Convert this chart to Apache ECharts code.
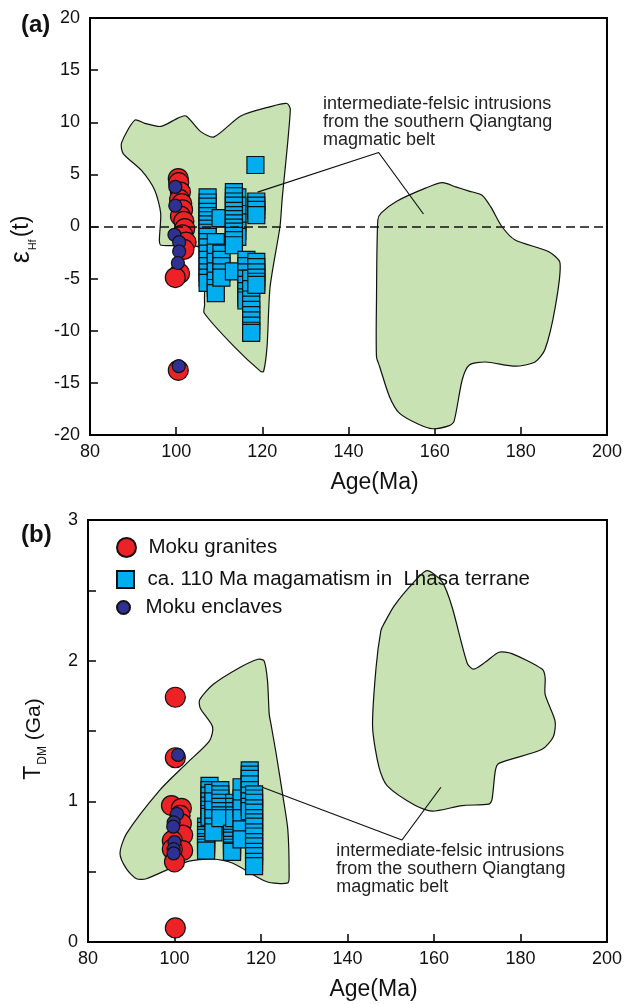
<!DOCTYPE html>
<html><head><meta charset="utf-8">
<script src="https://cdn.jsdelivr.net/npm/echarts@6/dist/echarts.min.js"></script>
<style>html,body{margin:0;padding:0;background:#fff}#c{width:625px;height:1004px}</style>
</head><body><div id="c"></div>
<script>
// ---------- data ----------
const xTicks = [80, 100, 120, 140, 160, 180, 200];
const seriesNames = ['Moku granites', 'ca. 110 Ma magamatism in  Lhasa terrane', 'Moku enclaves'];
const annoLines = ['intermediate-felsic intrusions', 'from the southern Qiangtang', 'magmatic belt'];

// Panel (a): eHf(t) vs Age
const granitesA = [[100.5,4.6],[100.6,4.2],[101.0,3.3],[100.8,2.6],[101.3,2.2],[101.5,1.6],[101.0,1.0],[101.8,0.5],[102.0,-0.2],[101.5,-0.8],[102.3,-1.5],[101.8,-2.2],[100.8,-4.5],[99.8,-4.9],[100.5,-13.8]];
const enclavesA = [[99.8,3.8],[99.8,2.0],[99.6,-0.8],[100.7,-1.5],[100.7,-2.4],[100.4,-3.5],[100.6,-13.4]];
const lhasaA = [
  [107.3,2.8],[107.3,2.3],[107.3,1.9],[107.3,1.4],[107.3,1.0],[107.3,0.6],[107.3,0.2],[107.3,-0.2],[107.3,-0.6],[107.3,-1.0],[107.3,-1.5],[107.3,-2.0],[107.3,-2.6],[107.3,-3.2],[107.3,-3.8],[107.3,-4.4],[107.3,-4.9],[107.3,-5.4],
  [109.2,-1.5],[109.2,-2.5],[109.2,-3.4],[109.2,-4.3],[109.2,-5.2],[109.2,-5.9],[109.2,-6.4],
  [110.3,0.8],
  [110.5,-2.6],[110.5,-3.2],[110.5,-3.8],[110.5,-4.4],[110.5,-4.9],
  [114.2,2.8],[114.2,2.0],[114.2,1.2],[114.2,0.4],[114.2,-0.4],[114.2,-1.0],
  [113.4,3.3],[113.4,2.9],[113.4,2.4],[113.4,2.0],[113.4,1.5],[113.4,1.1],[113.4,0.7],[113.4,0.3],[113.4,-0.1],[113.4,-0.5],[113.4,-0.9],[113.4,-1.3],[113.4,-1.8],
  [113.4,-4.3],
  [116.3,-3.2],[116.3,-3.8],[116.3,-4.4],[116.3,-5.0],[116.3,-5.6],[116.3,-6.2],[116.3,-6.8],[116.3,-7.1],
  [117.4,-5.0],[117.4,-6.0],[117.4,-7.0],[117.4,-7.5],[117.4,-8.0],[117.4,-8.5],[117.4,-9.0],[117.4,-9.5],[117.4,-10.0],[117.4,-10.2],
  [118.6,2.4],[118.6,2.0],[118.6,1.6],[118.6,1.1],
  [118.6,-3.4],[118.6,-3.9],[118.6,-4.4],[118.6,-4.9],[118.6,-5.3],[118.6,-5.6],
  [118.4,5.9]
];
const fieldA1 = [[90.4,10.2],[92.7,9.9],[96.5,9.6],[100.4,10.4],[102.3,10.6],[105.7,9.1],[108.8,8.6],[115.0,10.6],[121.9,11.5],[125.7,11.8],[126.5,11.2],[124.6,2.6],[124.1,0.0],[121.8,-5.8],[121.1,-11.5],[120.3,-13.9],[119.6,-13.9],[113.4,-11.5],[106.5,-8.3],[106.6,-7.5],[105.7,-2.1],[96.5,-1.8],[96.1,-1.4],[96.4,1.3],[95.0,3.5],[91.9,5.4],[87.7,7.0],[87.3,8.0]];
const fieldA2 = [[147.6,1.3],[151.1,2.4],[158.0,3.7],[161.8,4.2],[164.9,3.8],[168.0,3.4],[171.0,3.0],[173.0,1.9],[175.6,0.0],[178.7,-1.3],[186.4,-2.4],[189.1,-3.5],[188.0,-7.7],[185.6,-11.8],[183.3,-13.0],[178.7,-13.4],[171.8,-13.0],[168.0,-13.3],[166.4,-14.7],[164.5,-18.7],[163.4,-19.1],[159.5,-19.4],[156.4,-19.0],[151.8,-17.9],[149.5,-16.3],[147.2,-13.4],[146.5,-12.5],[146.5,-7.0],[146.8,0.6]];
const leaderA = [[118.9,3.3],[147.0,7.1],[157.4,1.2]];
const annoPosA = [134.1, 12.6];
const refLineA = 0;

// Panel (b): TDM vs Age
const granitesB = [[100.2,1.74],[100.2,1.31],[99.3,0.97],[101.6,0.95],[101.3,0.90],[101.6,0.84],[101.9,0.76],[99.5,0.72],[101.9,0.65],[99.5,0.66],[100.0,0.57],[100.2,0.10]];
const enclavesB = [[100.8,1.33],[100.6,0.91],[99.8,0.85],[99.7,0.82],[100.0,0.71],[99.8,0.66],[99.8,0.63]];
const lhasaB = [
  [107.3,0.82],[107.3,0.79],[107.3,0.76],[107.3,0.74],[107.3,0.71],[107.3,0.69],[107.3,0.67],[107.3,0.65],
  [108.1,1.11],[108.1,1.08],[108.1,1.04],[108.1,1.00],[108.1,0.97],[108.1,0.94],[108.1,0.91],[108.1,0.89],
  [109.0,1.06],[109.0,1.00],[109.0,0.94],[109.0,0.88],[109.0,0.82],[109.0,0.78],
  [110.6,1.08],[110.6,1.05],[110.6,1.02],[110.6,0.99],[110.6,0.96],[110.6,0.93],[110.6,0.90],[110.6,0.88],
  [113.3,0.77],[113.3,0.74],[113.3,0.72],[113.3,0.69],[113.3,0.67],[113.3,0.65],[113.3,0.64],
  [113.8,0.99],[113.8,0.96],[113.8,0.93],[113.8,0.90],[113.8,0.88],
  [115.5,1.10],[115.5,1.02],[115.5,0.95],[115.5,0.88],[115.5,0.80],[115.5,0.73],
  [117.4,1.22],[117.4,1.19],[117.4,1.16],[117.4,1.12],[117.4,1.08],[117.4,1.04],[117.4,1.00],[117.4,0.96],[117.4,0.93],
  [118.4,1.05],[118.4,1.02],[118.4,0.99],[118.4,0.95],[118.4,0.92],[118.4,0.88],[118.4,0.85],[118.4,0.82],[118.4,0.78],[118.4,0.75],[118.4,0.71],[118.4,0.68],[118.4,0.64],[118.4,0.61],[118.4,0.57],[118.4,0.54]
];
const fieldB1 = [[105.8,1.72],[108.9,1.83],[115.0,1.95],[119.3,2.01],[120.7,2.00],[121.5,1.86],[121.9,1.62],[122.3,1.55],[123.5,1.34],[125.1,1.03],[126.2,0.80],[126.5,0.49],[126.2,0.42],[121.2,0.43],[113.5,0.56],[108.9,0.59],[102.8,0.57],[93.5,0.45],[91.2,0.45],[88.9,0.52],[87.4,0.63],[88.9,0.77],[96.6,1.08],[102.8,1.27],[108.1,1.43],[108.8,1.53],[106.0,1.66]];
const fieldB2 = [[148.4,2.26],[150.8,2.39],[155.4,2.56],[158.4,2.64],[161.9,2.56],[164.2,2.38],[167.7,1.98],[169.2,1.94],[171.9,1.99],[175.0,2.06],[178.0,2.05],[185.0,1.94],[185.7,1.88],[185.7,1.76],[188.0,1.57],[187.6,1.46],[185.0,1.37],[175.0,1.27],[174.2,1.22],[173.4,1.01],[172.7,0.98],[166.5,0.97],[159.6,0.93],[155.7,0.97],[149.2,1.11],[147.3,1.24],[145.8,1.53],[146.6,1.95],[147.7,2.21]];
const leaderB = [[120.3,1.10],[152.6,0.725],[161.6,1.10]];
const annoPosB = [137.4, 0.708];

// ---------- styles ----------
const FONT = '"Liberation Sans", Arial, Helvetica, sans-serif';
const RED = '#ED2227', CYAN = '#00AEEF', NAVY = '#2E3192', GREEN = '#C8E2B4', INK = '#111';
const SQUARE_ICON = 'path://M0,0L10,0L10,10L0,10Z';

function polySeries(pts, idx) {
  return {
    type: 'custom', xAxisIndex: idx, yAxisIndex: idx, data: pts, silent: true, z: 1,
    renderItem: function (params, api) {
      if (params.dataIndex !== 0) return;
      const P = pts.map(p => api.coord(p));
      return { type: 'polygon', shape: { points: P, smooth: 0.25 },
        style: { fill: GREEN, stroke: INK, lineWidth: 1.2 } };
    }
  };
}
function xAxisCfg(idx) {
  return {
    gridIndex: idx, type: 'value', min: xTicks[0], max: xTicks[xTicks.length - 1], interval: xTicks[1] - xTicks[0],
    axisLine: { onZero: false, lineStyle: { color: '#000', width: 2 } },
    axisTick: { inside: true, length: 8, lineStyle: { color: '#000', width: 1.5 } },
    axisLabel: { margin: 8, fontSize: 18, color: INK, fontFamily: FONT },
    splitLine: { show: false },
    name: 'Age(Ma)', nameLocation: 'middle', nameGap: 36,
    nameTextStyle: { fontSize: 23, color: INK, fontFamily: FONT, padding: [0, 0, 0, 52] }
  };
}
const markerBorder = { borderColor: INK, borderWidth: 1.2 };
const legendText = { fontSize: 20.5, color: INK, fontFamily: FONT };

const option = {
  animation: false,
  backgroundColor: '#fff',
  title: [
    { text: '(a)', left: 16, top: 8, textStyle: { fontSize: 24, fontWeight: 'bold', color: INK, fontFamily: FONT } },
    { text: '(b)', left: 16, top: 518, textStyle: { fontSize: 24, fontWeight: 'bold', color: INK, fontFamily: FONT } }
  ],
  grid: [
    { left: 88, top: 18, width: 521, height: 417, show: true, borderColor: '#000', borderWidth: 2, backgroundColor: 'transparent' },
    { left: 88, top: 520, width: 520, height: 422, show: true, borderColor: '#000', borderWidth: 2, backgroundColor: 'transparent' }
  ],
  xAxis: [xAxisCfg(0), xAxisCfg(1)],
  yAxis: [
    {
      gridIndex: 0, type: 'value', min: -20, max: 20, interval: 5,
      axisLine: { show: true, onZero: false, lineStyle: { color: '#000', width: 2 } },
      axisTick: { show: true, inside: true, length: 8, lineStyle: { color: '#000', width: 1.5 } },
      axisLabel: { margin: 10, fontSize: 18, color: INK, fontFamily: FONT },
      splitLine: { show: false },
      name: '{e|ε}{s|Hf}{t|(t)}', nameLocation: 'middle', nameGap: 52, nameRotate: 90,
      nameTextStyle: {
        padding: [0, 26, 0, 0],
        rich: {
          e: { fontSize: 27, color: INK, fontFamily: FONT, verticalAlign: 'bottom', padding: [0, 0, 3, 0] },
          s: { fontSize: 11, color: INK, fontFamily: FONT, verticalAlign: 'bottom', padding: [0, 2, 0, 1] },
          t: { fontSize: 23, color: INK, fontFamily: FONT, verticalAlign: 'bottom', padding: [0, 0, 5, 0] }
        }
      }
    },
    {
      gridIndex: 1, type: 'value', min: 0, max: 3, interval: 0.5,
      axisLine: { show: true, onZero: false, lineStyle: { color: '#000', width: 2 } },
      axisTick: { show: true, inside: true, length: 8, lineStyle: { color: '#000', width: 1.5 } },
      axisLabel: { margin: 10, fontSize: 18, color: INK, fontFamily: FONT,
        formatter: v => (Math.abs(v - Math.round(v)) < 1e-9 ? String(Math.round(v)) : '') },
      splitLine: { show: false },
      name: '{T|T}{s|DM}{g| (Ga)}', nameLocation: 'middle', nameGap: 39, nameRotate: 90,
      nameTextStyle: {
        padding: [0, 16, 0, 0],
        rich: {
          T: { fontSize: 23, color: INK, fontFamily: FONT, verticalAlign: 'bottom', padding: [0, 0, 4, 0] },
          s: { fontSize: 12, color: INK, fontFamily: FONT, verticalAlign: 'bottom', padding: [0, 0, 0, 1] },
          g: { fontSize: 21, color: INK, fontFamily: FONT, verticalAlign: 'bottom', padding: [0, 0, 4, 0] }
        }
      }
    }
  ],
  legend: [
    { data: [seriesNames[0]], left: 111, top: 532, orient: 'vertical', itemWidth: 34, itemHeight: 19,
      textStyle: legendText, selectedMode: false },
    { data: [{ name: seriesNames[1], icon: SQUARE_ICON }], left: 111, top: 564, orient: 'vertical', itemWidth: 34, itemHeight: 17,
      symbolKeepAspect: true, textStyle: legendText, selectedMode: false },
    { data: [seriesNames[2]], left: 111, top: 592, orient: 'vertical', itemWidth: 34, itemHeight: 13,
      textStyle: legendText, selectedMode: false }
  ],
  series: [
    polySeries(fieldA1, 0), polySeries(fieldA2, 0),
    polySeries(fieldB1, 1), polySeries(fieldB2, 1),
    { type: 'line', xAxisIndex: 0, yAxisIndex: 0, data: leaderA, symbol: 'none', silent: true, z: 2,
      lineStyle: { color: INK, width: 1.2 },
      markLine: { silent: true, symbol: 'none', label: { show: false },
        lineStyle: { color: INK, width: 1.5, type: [9, 5] }, data: [{ yAxis: refLineA }] } },
    { type: 'line', xAxisIndex: 1, yAxisIndex: 1, data: leaderB, symbol: 'none', silent: true, z: 2,
      lineStyle: { color: INK, width: 1.2 } },
    { name: seriesNames[1], type: 'scatter', xAxisIndex: 0, yAxisIndex: 0, data: lhasaA, symbol: 'rect', symbolSize: 17,
      itemStyle: Object.assign({ color: CYAN, opacity: 1 }, markerBorder), z: 3 },
    { name: seriesNames[0], type: 'scatter', xAxisIndex: 0, yAxisIndex: 0, data: granitesA, symbol: 'circle', symbolSize: 20,
      itemStyle: Object.assign({ color: RED, opacity: 1 }, markerBorder), z: 4 },
    { name: seriesNames[2], type: 'scatter', xAxisIndex: 0, yAxisIndex: 0, data: enclavesA, symbol: 'circle', symbolSize: 13,
      itemStyle: Object.assign({ color: NAVY, opacity: 1 }, markerBorder), z: 5 },
    { name: seriesNames[1], type: 'scatter', xAxisIndex: 1, yAxisIndex: 1, data: lhasaB, symbol: 'rect', symbolSize: 17,
      itemStyle: Object.assign({ color: CYAN, opacity: 1 }, markerBorder), z: 3 },
    { name: seriesNames[0], type: 'scatter', xAxisIndex: 1, yAxisIndex: 1, data: granitesB, symbol: 'circle', symbolSize: 20,
      itemStyle: Object.assign({ color: RED, opacity: 1 }, markerBorder), z: 4 },
    { name: seriesNames[2], type: 'scatter', xAxisIndex: 1, yAxisIndex: 1, data: enclavesB, symbol: 'circle', symbolSize: 13,
      itemStyle: Object.assign({ color: NAVY, opacity: 1 }, markerBorder), z: 5 }
  ]
};

const chart = echarts.init(document.getElementById('c'), null, { renderer: 'canvas' });
chart.setOption(option);
const pA = chart.convertToPixel({ gridIndex: 0 }, annoPosA);
const pB = chart.convertToPixel({ gridIndex: 1 }, annoPosB);
const annoStyle = { text: annoLines.join('\n'), fontSize: 18, lineHeight: 18, fill: '#222', fontFamily: FONT };
chart.setOption({
  graphic: [
    { type: 'text', x: pA[0], y: pA[1], z: 10, style: Object.assign({}, annoStyle) },
    { type: 'text', x: pB[0], y: pB[1], z: 10, style: Object.assign({}, annoStyle) }
  ]
});
</script></body></html>
